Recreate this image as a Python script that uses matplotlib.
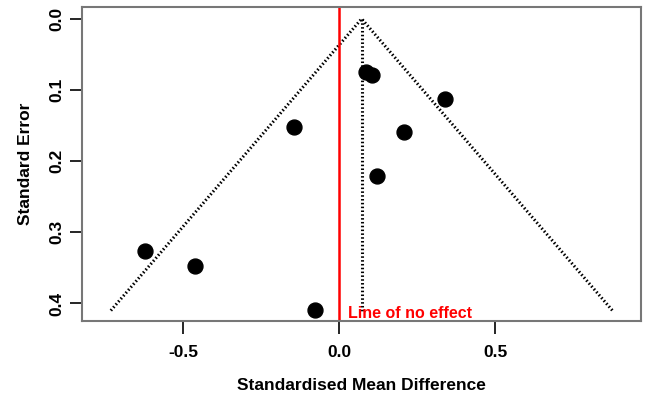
import numpy as np
import matplotlib
matplotlib.use("Agg")
from matplotlib import pyplot as plt

# effect sizes (SMD) and standard errors
smd = [0.086, 0.106, 0.339, -0.145, 0.207, 0.120, -0.623, -0.462, -0.076]
se = [0.075, 0.079, 0.112, 0.152, 0.159, 0.221, 0.326, 0.347, 0.409]
centre = 0.072
se_max = 0.41
xticks = [-0.5, 0.0, 0.5]
yticks = [0.0, 0.1, 0.2, 0.3, 0.4]

plt.rcParams['font.family'] = ['Liberation Sans', 'DejaVu Sans']

fig = plt.figure(figsize=(6.45, 3.97), dpi=100)
ax = fig.add_axes([0.1276, 0.1914, 0.8662, 0.7917])

# funnel
dots = (0, (0.5, 0.75))
ax.plot([centre - 1.96 * se_max, centre, centre + 1.96 * se_max], [se_max, 0, se_max],
        color='black', lw=2.2, linestyle=dots)
ax.plot([centre, centre], [0, se_max], color='black', lw=2.2, linestyle=dots)

# line of no effect
ax.axvline(0, color='red', lw=1.8)
ax.text(0.028, 0.414, 'Line of no effect', color='red', fontsize=11.5,
        fontweight='bold', va='center', ha='left')

ax.scatter(smd, se, s=115, color='black', zorder=3)

ax.set_xlim(-0.823, 0.967)
ax.set_ylim(0.4247, -0.017)

ax.set_xticks(xticks)
ax.set_xticklabels(['%.1f' % v for v in xticks], fontsize=12.5, fontweight='bold')
ax.set_yticks(yticks)
ax.set_yticklabels(['%.1f' % v for v in yticks], fontsize=12.5, fontweight='bold',
                   rotation=90, va='center')
ax.tick_params(length=9, width=1.2, color='black')
ax.tick_params(axis='x', pad=8)
ax.tick_params(axis='y', pad=4)

for s in ax.spines.values():
    s.set_color('#777777')
    s.set_linewidth(1.5)

# R style axis lines
ax.plot([xticks[0], xticks[-1]], [0, 0], color='black', lw=1.2,
        transform=ax.get_xaxis_transform(), clip_on=False)
ax.plot([0, 0], [yticks[0], yticks[-1]], color='black', lw=1.2,
        transform=ax.get_yaxis_transform(), clip_on=False)

ax.set_xlabel('Standardised Mean Difference', fontsize=12.5, fontweight='bold', labelpad=13)
ax.set_ylabel('Standard Error', fontsize=12.5, fontweight='bold', labelpad=12)

fig.savefig('out.png', dpi=100)
